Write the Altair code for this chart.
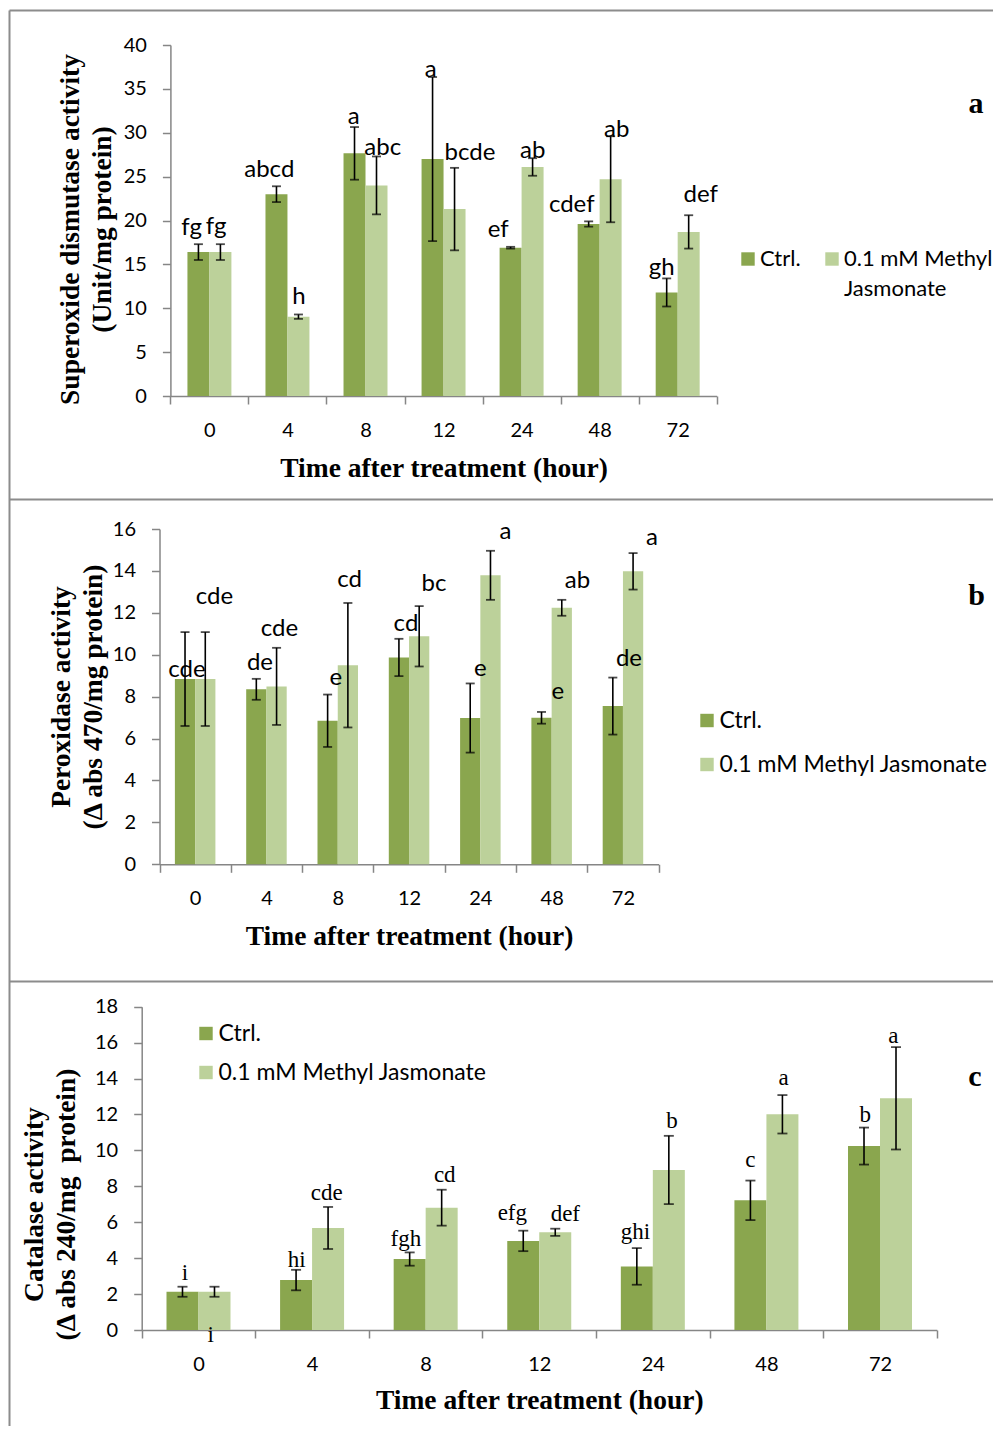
import altair as alt
import pandas as pd

# ---------------- data ----------------
HOURS = ["0", "4", "8", "12", "24", "48", "72"]
SERIES = ["Ctrl.", "0.1 mM Methyl Jasmonate"]
COLORS = ["#8AA64E", "#BCD19A"]

SOD_CTRL = [16.4, 23.0, 27.65, 27.0, 16.9, 19.6, 11.8]
SOD_CTRL_ERR = [0.9, 0.9, 3.0, 9.35, 0.1, 0.3, 1.6]
SOD_MJ = [16.4, 9.04, 24.0, 21.3, 26.1, 24.7, 18.7]
SOD_MJ_ERR = [0.9, 0.25, 3.3, 4.7, 1.0, 4.9, 1.9]
SOD_LAB_CTRL = ["fg", "abcd", "a", "a", "ef", "cdef", "gh"]
SOD_LAB_MJ = ["fg", "h", "abc", "bcde", "ab", "ab", "def"]

POD_CTRL = [8.84, 8.35, 6.85, 9.87, 6.98, 6.99, 7.55]
POD_CTRL_ERR = [2.24, 0.5, 1.25, 0.89, 1.65, 0.28, 1.36]
POD_MJ = [8.84, 8.49, 9.5, 10.88, 13.79, 12.24, 13.98]
POD_MJ_ERR = [2.24, 1.84, 2.97, 1.44, 1.17, 0.38, 0.87]
POD_LAB_CTRL = ["cde", "de", "e", "cd", "e", "e", "de"]
POD_LAB_MJ = ["cde", "cde", "cd", "bc", "a", "ab", "a"]

CAT_CTRL = [2.13, 2.78, 3.95, 4.96, 3.54, 7.22, 10.24]
CAT_CTRL_ERR = [0.28, 0.57, 0.37, 0.57, 1.02, 1.1, 1.03]
CAT_MJ = [2.13, 5.68, 6.81, 5.44, 8.91, 12.01, 12.9]
CAT_MJ_ERR = [0.28, 1.17, 1.0, 0.2, 1.9, 1.07, 2.85]
CAT_LAB_CTRL = ["i", "hi", "fgh", "efg", "ghi", "c", "b"]
CAT_LAB_MJ = ["i", "cde", "cd", "def", "b", "a", "a"]

# annotation placement (label anchor height in data units, x nudge in px)
SOD_LY_CTRL = [19.1, 25.7, 31.75, 37.1, 18.9, 21.8, 14.55]
SOD_LY_MJ = [19.3, 11.3, 28.3, 27.65, 27.9, 30.3, 22.9]
SOD_DX_CTRL = [-17.7, -18.2, -11.8, -12.9, -23.3, -27.9, -16]
SOD_DX_MJ = [6.6, 11.5, 17.2, 26.4, 11.1, 17.1, 23]

POD_LY_CTRL = [9.27, 9.59, 8.87, 11.45, 9.3, 8.24, 9.78]
POD_LY_MJ = [12.74, 11.21, 13.56, 13.36, 15.87, 13.53, 15.58]
POD_DX_CTRL = [-8.2, -6.5, -1.8, -3.1, 0.1, 6.1, 6]
POD_DX_MJ = [19.2, 13, 11.9, 24.9, 25, 25.8, 29]

CAT_LY_CTRL = [3.16, 3.9, 5.05, 6.5, 5.44, 9.47, 11.97]
CAT_LY_MJ = [-0.28, 7.65, 8.63, 6.44, 11.64, 14.05, 16.37]
CAT_DX_CTRL = [-13.5, -15.4, -19.8, -26.9, -17.3, -16, -14.7]
CAT_DX_MJ = [12.1, 14.6, 19.1, 26.1, 19.1, 17.2, 13.3]

XTITLE = "Time after treatment (hour)"

# page body is 985px wide: keep the drawing exactly that wide so it is not rescaled
W, H = 985, 1418

PANELS = [
    dict(ctrl=SOD_CTRL, ctrl_err=SOD_CTRL_ERR, mj=SOD_MJ, mj_err=SOD_MJ_ERR,
         lab_c=SOD_LAB_CTRL, lab_m=SOD_LAB_MJ, ly_c=SOD_LY_CTRL, ly_m=SOD_LY_MJ,
         dx_c=SOD_DX_CTRL, dx_m=SOD_DX_MJ,
         ydom=[0, 40], yvals=list(range(0, 41, 5)), y0=388, y1=37,
         x0=162.4, x1=708.7, po=0.775, cap=9,
         ytitle=["Superoxide dismutase activity", "(Unit/mg protein)"],
         ytx=-92, yty=221, xty=80,
         lfont="Lato", lsize=24,
         legend=dict(orient="none", legendX=729, legendY=240, direction="horizontal",
                     title=None, columnPadding=20, labelLimit=600, labelFontSize=22,
                     labelExpr="datum.label == 'Ctrl.' ? ['Ctrl.', ' '] : ['0.1 mM Methyl', 'Jasmonate']")),
    dict(ctrl=POD_CTRL, ctrl_err=POD_CTRL_ERR, mj=POD_MJ, mj_err=POD_MJ_ERR,
         lab_c=POD_LAB_CTRL, lab_m=POD_LAB_MJ, ly_c=POD_LY_CTRL, ly_m=POD_LY_MJ,
         dx_c=POD_DX_CTRL, dx_m=POD_DX_MJ,
         ydom=[0, 16], yvals=list(range(0, 17, 2)), y0=856.3, y1=521,
         x0=151.5, x1=650.6, po=0.76, cap=9,
         ytitle=["Peroxidase activity", "(\u0394 abs 470/mg protein)"],
         ytx=-90, yty=688.5, xty=80,
         lfont="Lato", lsize=24,
         legend=dict(orient="none", legendX=687.5, legendY=701, direction="vertical",
                     title=None, rowPadding=20, labelLimit=600)),
    dict(ctrl=CAT_CTRL, ctrl_err=CAT_CTRL_ERR, mj=CAT_MJ, mj_err=CAT_MJ_ERR,
         lab_c=CAT_LAB_CTRL, lab_m=CAT_LAB_MJ, ly_c=CAT_LY_CTRL, ly_m=CAT_LY_MJ,
         dx_c=CAT_DX_CTRL, dx_m=CAT_DX_MJ,
         ydom=[0, 18], yvals=list(range(0, 19, 2)), y0=1322, y1=998.7,
         x0=133.7, x1=928.8, po=0.775, cap=10,
         ytitle=["Catalase activity", "(\u0394 abs 240/mg\u00a0 protein)"],
         ytx=-99, yty=1196, xty=78.5,
         lfont="Liberation Serif", lsize=23,
         legend=dict(orient="none", legendX=186.5, legendY=1014, direction="vertical",
                     title=None, rowPadding=15, labelLimit=600)),
]


def make_panel(p):
    rows = []
    for i, h in enumerate(HOURS):
        for s, vals, errs in ((SERIES[0], p["ctrl"], p["ctrl_err"]),
                              (SERIES[1], p["mj"], p["mj_err"])):
            rows.append(dict(hour=h, series=s, mean=vals[i],
                             lo=vals[i] - errs[i], hi=vals[i] + errs[i]))
    df = pd.DataFrame(rows)

    step = (p["x1"] - p["x0"]) / len(HOURS)
    lrows = []
    for i in range(len(HOURS)):
        lrows.append(dict(lx=i + 0.5 + p["dx_c"][i] / step, ly=p["ly_c"][i], txt=p["lab_c"][i]))
        lrows.append(dict(lx=i + 0.5 + p["dx_m"][i] / step, ly=p["ly_m"][i], txt=p["lab_m"][i]))
    ldf = pd.DataFrame(lrows)

    xscale = alt.Scale(domain=HOURS, range=[p["x0"], p["x1"]], paddingInner=0, paddingOuter=0)
    xaxis = alt.Axis(orient="bottom", offset=p["y0"] - H, tickBand="extent", labelAngle=0,
                     title=XTITLE, titleY=p["xty"], titleBaseline="alphabetic")
    x = alt.X("hour:N", sort=HOURS, scale=xscale, axis=xaxis)
    xo = alt.XOffset("series:N", sort=SERIES,
                     scale=alt.Scale(domain=SERIES, paddingInner=0, paddingOuter=p["po"]))
    yscale = alt.Scale(domain=p["ydom"], range=[p["y0"], p["y1"]], nice=False, zero=True)
    yaxis = alt.Axis(orient="left", offset=-p["x0"], values=p["yvals"], title=p["ytitle"],
                     titleX=p["ytx"], titleY=p["yty"], titleAngle=270, titleAlign="center",
                     titleBaseline="alphabetic", titleLineHeight=32)
    color = alt.Color("series:N", sort=SERIES, scale=alt.Scale(domain=SERIES, range=COLORS),
                      legend=alt.Legend(**p["legend"]))

    bars = alt.Chart(df).mark_bar().encode(
        x=x, xOffset=xo, y=alt.Y("mean:Q", scale=yscale, axis=yaxis), color=color)
    rules = alt.Chart(df).mark_rule(color="black", strokeWidth=1.6).encode(
        x=x, xOffset=xo, y=alt.Y("lo:Q", scale=yscale, axis=yaxis), y2="hi:Q")
    caps = alt.Chart(df).transform_fold(["lo", "hi"], as_=["k", "v"]).mark_tick(
        color="black", thickness=1.8, size=p["cap"]).encode(
        x=x, xOffset=xo, y=alt.Y("v:Q", scale=yscale, axis=yaxis))
    inner = alt.layer(bars, rules, caps)

    labels = alt.Chart(ldf).mark_text(font=p["lfont"], fontSize=p["lsize"], color="black",
                                      baseline="middle", align="center").encode(
        x=alt.X("lx:Q", scale=alt.Scale(domain=[0, len(HOURS)], range=[p["x0"], p["x1"]],
                                        nice=False, zero=False), axis=None),
        y=alt.Y("ly:Q", scale=yscale, axis=yaxis),
        text="txt:N")
    return alt.layer(inner, labels).resolve_scale(x="independent")


panels = [make_panel(p) for p in PANELS]

one = pd.DataFrame({"k": [0]})
border_color = "#8C8C8C"
borders = [
    alt.Chart(one).mark_rule(color=border_color, strokeWidth=2).encode(
        x=alt.value(1.5), x2=alt.value(W), y=alt.value(2.5)),
    alt.Chart(one).mark_rule(color=border_color, strokeWidth=2).encode(
        x=alt.value(1.5), y=alt.value(2.5), y2=alt.value(H)),
    alt.Chart(one).mark_rule(color=border_color, strokeWidth=2).encode(
        x=alt.value(1.5), x2=alt.value(W), y=alt.value(491.5)),
    alt.Chart(one).mark_rule(color=border_color, strokeWidth=2).encode(
        x=alt.value(1.5), x2=alt.value(W), y=alt.value(973.5)),
]

PANEL_LETTERS = ["a", "b", "c"]
LETTER_POS = [(968, 105.3), (968.7, 597), (967, 1078)]
letters = [
    alt.Chart(one).mark_text(font="Liberation Serif", fontWeight="bold", fontSize=30,
                             color="black", baseline="alphabetic", align="center").encode(
        x=alt.value(px), y=alt.value(py), text=alt.value(t))
    for t, (px, py) in zip(PANEL_LETTERS, LETTER_POS)
]

chart = alt.layer(*panels, *borders, *letters).resolve_scale(
    x="independent", y="independent", color="independent", xOffset="independent"
).properties(
    width=W, height=H, autosize=alt.AutoSizeParams(type="none"), padding=0
).configure(
    style={"guide-label": {"lineHeight": 30}}
).configure_view(stroke=None).configure_axis(
    labelFont="Lato", labelFontSize=20, labelColor="black",
    titleFont="Liberation Serif", titleFontSize=27.5, titleFontWeight="bold", titleColor="black",
    domainColor="#868686", tickColor="#868686", domainWidth=1.5, tickWidth=1.5,
    tickSize=8, labelPadding=16, grid=False
).configure_legend(
    labelFont="Lato", labelFontSize=23, labelColor="black", symbolType="square",
    symbolSize=180, symbolStrokeWidth=0, padding=0, labelOffset=1
)

chart.save("out.html", embed_options={"renderer": "svg", "actions": False})
